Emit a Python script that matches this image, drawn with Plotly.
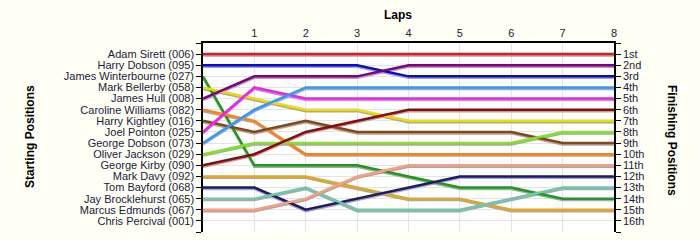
import plotly.graph_objects as go

# Drivers in starting-grid order
drivers = [
    "Adam Sirett (006)", "Harry Dobson (095)", "James Winterbourne (027)",
    "Mark Bellerby (058)", "James Hull (008)", "Caroline Williams (082)",
    "Harry Kightley (016)", "Joel Pointon (025)", "George Dobson (073)",
    "Oliver Jackson (029)", "George Kirby (090)", "Mark Davy (092)",
    "Tom Bayford (068)", "Jay Brocklehurst (065)", "Marcus Edmunds (067)",
    "Chris Percival (001)",
]

laps = [0, 1, 2, 3, 4, 5, 6, 7, 8]

# Race position of each driver at the end of every lap (lap 0 = grid)
positions = {
    "Adam Sirett (006)":        [1, 1, 1, 1, 1, 1, 1, 1, 1],
    "Harry Dobson (095)":       [2, 2, 2, 2, 3, 3, 3, 3, 3],
    "James Winterbourne (027)": [3, 11, 11, 11, 12, 13, 13, 14, 14],
    "Mark Bellerby (058)":      [4, 5, 6, 6, 7, 7, 7, 7, 7],
    "James Hull (008)":         [5, 3, 3, 3, 2, 2, 2, 2, 2],
    "Caroline Williams (082)":  [6, 7, 10, 10, 10, 10, 10, 10, 10],
    "Harry Kightley (016)":     [7, 8, 7, 8, 8, 8, 8, 9, 9],
    "Joel Pointon (025)":       [8, 4, 5, 5, 5, 5, 5, 5, 5],
    "George Dobson (073)":      [9, 6, 4, 4, 4, 4, 4, 4, 4],
    "Oliver Jackson (029)":     [10, 9, 9, 9, 9, 9, 9, 8, 8],
    "George Kirby (090)":       [11, 10, 8, 7, 6, 6, 6, 6, 6],
    "Mark Davy (092)":          [12, 12, 12, 13, 14, 14, 15, 15, 15],
    "Tom Bayford (068)":        [13, 13, 15, 14, 13, 12, 12, 12, 12],
    "Jay Brocklehurst (065)":   [14, 14, 13, 15, 15, 15, 14, 13, 13],
    "Marcus Edmunds (067)":     [15, 15, 14, 12, 11, 11, 11, 11, 11],
    "Chris Percival (001)":     [None] * 9,
}

colors = {
    "Adam Sirett (006)": "#E31A1C",
    "Harry Dobson (095)": "#0A0ACC",
    "James Winterbourne (027)": "#1C9A1C",
    "Mark Bellerby (058)": "#F0DC00",
    "James Hull (008)": "#800080",
    "Caroline Williams (082)": "#FF8010",
    "Harry Kightley (016)": "#8B4513",
    "Joel Pointon (025)": "#F020F0",
    "George Dobson (073)": "#3399FF",
    "Oliver Jackson (029)": "#80E620",
    "George Kirby (090)": "#8B0A0A",
    "Mark Davy (092)": "#E0A820",
    "Tom Bayford (068)": "#1A1A70",
    "Jay Brocklehurst (065)": "#6CC8A8",
    "Marcus Edmunds (067)": "#FA9E80",
    "Chris Percival (001)": "#999999",
}

finish_labels = ["1st", "2nd", "3rd", "4th", "5th", "6th", "7th", "8th",
                 "9th", "10th", "11th", "12th", "13th", "14th", "15th", "16th"]
lap_labels = ["", "1", "2", "3", "4", "5", "6", "7", "8"]

grid_pos = list(range(0, 18))
start_text = [""] + drivers + [""]
finish_text = [""] + finish_labels + [""]

text_color = "#1A1A40"
font_family = "Liberation Sans, Arial, sans-serif"
label_size = 11

fig = go.Figure()

# soft drop shadow under each line
for name in drivers:
    ys = positions[name]
    fig.add_trace(go.Scatter(
        x=laps, y=[None if v is None else v + 0.13 for v in ys],
        mode="lines", line=dict(color="#A8A8A8", width=2.5),
        hoverinfo="skip", showlegend=False,
    ))

for name in drivers:
    fig.add_trace(go.Scatter(
        x=laps, y=positions[name], mode="lines", name=name,
        line=dict(color=colors[name], width=2.5), showlegend=False,
    ))

# carrier trace for the finishing-position axis
fig.add_trace(go.Scatter(x=[None], y=[None], yaxis="y2", showlegend=False,
                         hoverinfo="skip"))

axis_common = dict(
    range=[17, 0], tickvals=grid_pos, showline=True, linecolor="black",
    linewidth=1.5, ticks="outside", ticklen=5, tickcolor="black",
    tickfont=dict(family=font_family, size=label_size, color=text_color),
    zeroline=False, fixedrange=True,
)

fig.update_layout(
    width=700, height=240,
    margin=dict(l=203, r=86, t=43, b=8),
    paper_bgcolor="#FFFFF5", plot_bgcolor="#FFFFFF",
    xaxis=dict(
        range=[0, 8], side="top", tickvals=laps, ticktext=lap_labels,
        showline=True, linecolor="black", linewidth=1.5, ticks="",
        showgrid=True, gridcolor="#E4E4E4", gridwidth=1, zeroline=False,
        tickfont=dict(family=font_family, size=label_size, color=text_color),
        mirror=False,
    ),
    yaxis=dict(ticktext=start_text, showgrid=True, gridcolor="#E4E4E4",
               gridwidth=1, side="left", **axis_common),
    yaxis2=dict(ticktext=finish_text, overlaying="y", side="right",
                showgrid=False, **axis_common),
    annotations=[
        dict(text="<b>Laps</b>", x=398, y=15, showarrow=False),
        dict(text="<b>Starting Positions</b>", x=30, y=137, textangle=-90,
             showarrow=False),
        dict(text="<b>Finishing Positions</b>", x=672, y=140, textangle=90,
             showarrow=False),
    ],
)

# place titles in pixel coordinates of the whole page
plot_w = 700 - 203 - 86
plot_h = 240 - 43 - 8
for ann in fig.layout.annotations:
    px, py = ann.x, ann.y
    ann.xref = "paper"
    ann.yref = "paper"
    ann.x = (px - 203) / plot_w
    ann.y = 1 - (py - 43) / plot_h
    ann.xanchor = "center"
    ann.yanchor = "middle"
    ann.font = dict(family=font_family, size=12, color="black")

fig.write_html("out.html")
